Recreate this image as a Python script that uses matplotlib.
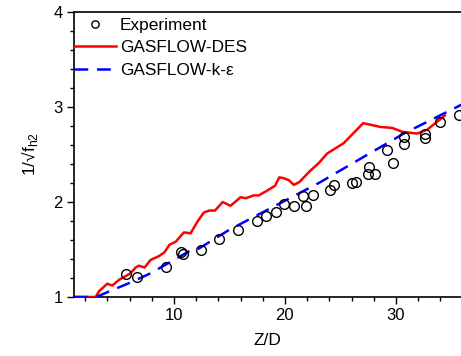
import numpy as np
import matplotlib
matplotlib.use('Agg')
import matplotlib.pyplot as plt
from matplotlib.ticker import MultipleLocator

plt.rcParams['font.family'] = ['Liberation Sans', 'DejaVu Sans']

# experiment
exp_x = [5.7, 6.7, 9.25, 10.6, 10.8, 12.4, 14.1, 15.8, 17.45, 18.3, 19.2, 19.9, 20.8,
         21.65, 21.9, 22.5, 24.1, 24.4, 26.0, 26.4, 27.5, 27.6, 28.1, 29.2, 29.7,
         30.7, 30.7, 32.6, 32.6, 34.0, 35.7]
exp_y = [1.24, 1.21, 1.32, 1.47, 1.45, 1.50, 1.61, 1.71, 1.80, 1.85, 1.89, 1.98, 1.96,
         2.06, 1.96, 2.07, 2.13, 2.18, 2.20, 2.21, 2.30, 2.37, 2.29, 2.55, 2.41,
         2.61, 2.68, 2.67, 2.72, 2.84, 2.92]

# GASFLOW-DES
des_x = [1, 2.95, 3.25, 4.0, 4.45, 5.05, 5.65, 6.1, 6.55, 6.85, 7.35, 7.9, 8.65, 9.15,
         9.6, 10.15, 10.9, 11.5, 12.1, 12.7, 13.2, 13.7, 14.4, 15.1, 16.0, 16.5, 17.2,
         17.65, 18.4, 19.1, 19.5, 19.9, 20.35, 20.8, 21.3, 22.2, 23.05, 23.8, 25.3,
         27.05, 28.6, 29.65, 30.55, 31.9, 32.8, 34.4]
des_y = [1.0, 1.0, 1.06, 1.14, 1.12, 1.18, 1.22, 1.25, 1.31, 1.33, 1.31, 1.39, 1.43, 1.47,
         1.55, 1.58, 1.68, 1.67, 1.79, 1.89, 1.91, 1.91, 2.00, 1.96, 2.05, 2.04, 2.07,
         2.07, 2.12, 2.17, 2.26, 2.25, 2.23, 2.18, 2.21, 2.32, 2.41, 2.51, 2.62,
         2.83, 2.79, 2.78, 2.74, 2.72, 2.76, 2.91]

# GASFLOW-k-eps
ke_x = [1, 3.0, 4.4, 6.25, 7.9, 11.35, 12.25, 14.95, 21.25, 23.05, 30.7, 36.0]
ke_y = [1.0, 1.0, 1.07, 1.16, 1.25, 1.48, 1.51, 1.705, 2.09, 2.20, 2.72, 3.03]

fig = plt.figure(figsize=(4.61, 3.56), dpi=100)
ax = fig.add_axes([74 / 461, 1 - 297 / 356, 1 - 74 / 461, 285 / 356])

ax.plot(exp_x, exp_y, 'o', mfc='none', mec='black', ms=7, mew=1.0, label='Experiment', zorder=4)
ax.plot(des_x, des_y, color='#ff0000', lw=1.8, label='GASFLOW-DES', zorder=3)
ax.plot(ke_x, ke_y, color='#0000ff', lw=1.8, dashes=(5.5, 3.5), label='GASFLOW-k-ε', zorder=3.1)

ax.set_xlim(1, 35.86)
ax.set_ylim(1, 4)
ax.xaxis.set_major_locator(MultipleLocator(10))
ax.xaxis.set_minor_locator(MultipleLocator(2))
ax.yaxis.set_major_locator(MultipleLocator(1))
ax.yaxis.set_minor_locator(MultipleLocator(0.2))
ax.tick_params(which='major', direction='out', length=5, width=1, labelsize=12, pad=3)
ax.tick_params(which='minor', direction='out', length=3, width=1)
ax.spines['right'].set_visible(False)
for s in ['left', 'bottom', 'top']:
    ax.spines[s].set_linewidth(1.2)

ax.set_xlabel('Z/D', fontsize=12.5, labelpad=7)
ax.set_ylabel('1/√f$_\\mathregular{h2}$', fontsize=12.5, labelpad=10)

ax.legend(loc='upper left', bbox_to_anchor=(-0.015, 1), borderaxespad=0, borderpad=0.35,
          frameon=False, fontsize=12.4, handlelength=2.45, handletextpad=0.2,
          labelspacing=0.42, markerscale=0.75)

fig.savefig('out.png', dpi=100)
